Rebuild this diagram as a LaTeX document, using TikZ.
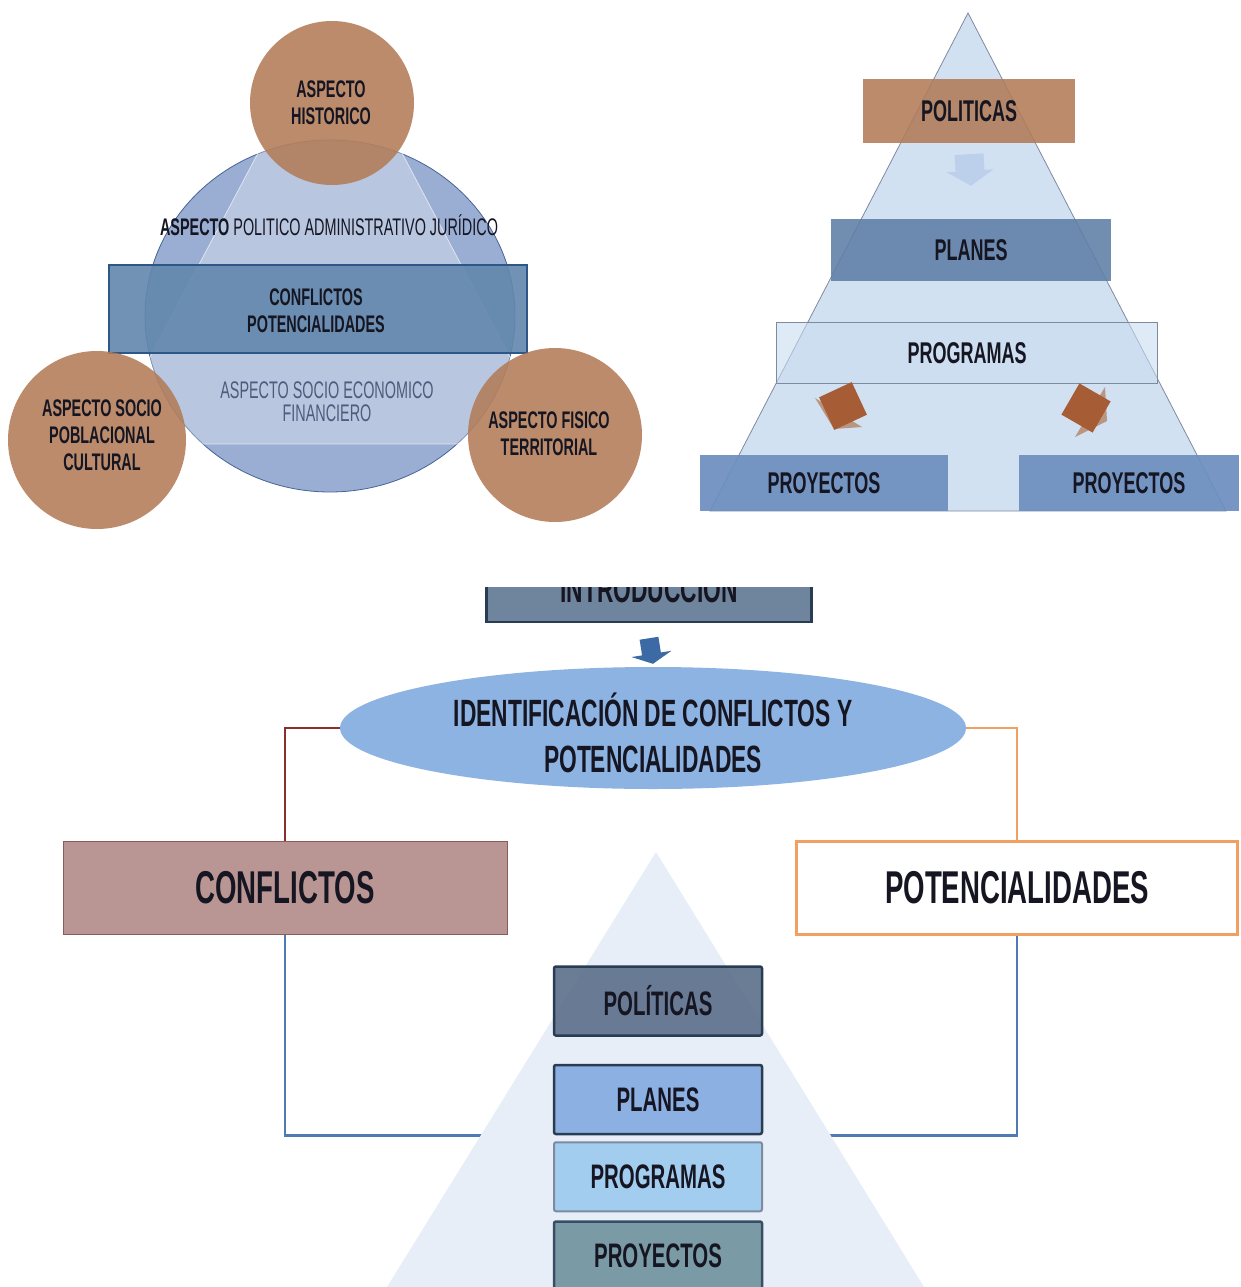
\documentclass[tikz,border=0pt]{standalone}
\usepackage{fontspec}
\setmainfont{Liberation Sans}[FakeStretch=0.6]
\usetikzlibrary{arrows.meta,positioning,shapes.geometric}

\pgfdeclarelayer{fondo}
\pgfdeclarelayer{medio}
\pgfsetlayers{fondo,medio,main}

\begin{document}
\begin{tikzpicture}[x=1pt,y=-1pt]

  % Define the colors of the three diagrams
  \definecolor{cafe}{RGB}{178,123,88}
  \definecolor{cafeflecha}{RGB}{166,92,52}
  \definecolor{cafesombra}{RGB}{184,150,130}
  \definecolor{cielo}{RGB}{154,174,211}
  \definecolor{bordecielo}{RGB}{70,100,150}
  \definecolor{acero}{RGB}{98,135,172}
  \definecolor{bordeacero}{RGB}{45,87,135}
  \definecolor{pirclaro}{RGB}{210,225,241}
  \definecolor{pirborde}{RGB}{125,138,160}
  \definecolor{planazul}{RGB}{94,127,166}
  \definecolor{progclaro}{RGB}{200,220,239}
  \definecolor{proyazul}{RGB}{108,142,191}
  \definecolor{flechatenue}{RGB}{188,208,236}
  \definecolor{introgris}{RGB}{111,133,157}
  \definecolor{introborde}{RGB}{40,60,82}
  \definecolor{flechaazul}{RGB}{60,106,164}
  \definecolor{elipse}{RGB}{141,179,226}
  \definecolor{rojo}{RGB}{139,46,46}
  \definecolor{naranja}{RGB}{240,160,96}
  \definecolor{rosa}{RGB}{185,149,148}
  \definecolor{bordrosa}{RGB}{142,90,88}
  \definecolor{lineaazul}{RGB}{79,123,181}
  \definecolor{pirtenue}{RGB}{232,238,247}
  \definecolor{politgris}{RGB}{91,110,138}
  \definecolor{planclaro}{RGB}{141,176,226}
  \definecolor{progcielo}{RGB}{163,205,239}
  \definecolor{proyteal}{RGB}{122,155,166}
  \definecolor{tinta}{RGB}{22,22,34}
  \definecolor{pizarra}{RGB}{75,92,124}

  % Styles
  \tikzset{
    texto/.style={text=tinta, align=center, inner sep=0pt,
      font=\bfseries\fontsize{24}{27}\selectfont},
    piso/.style={rectangle, inner sep=0pt, text=tinta, text opacity=1,
      minimum height=62pt, font=\bfseries\fontsize{30}{32}\selectfont},
    escalon/.style={rectangle, rounded corners=2pt, inner sep=0pt,
      line width=2.5pt, minimum width=208pt, minimum height=69pt,
      text=tinta, text opacity=1, font=\bfseries\fontsize{34}{36}\selectfont},
    grande/.style={rectangle, inner sep=0pt, minimum width=443pt,
      minimum height=93pt, text=tinta, font=\bfseries\fontsize{46}{48}\selectfont},
    rama/.style={line width=2.5pt}
  }

  \useasboundingbox (0,0) rectangle (1240,1287);
  \begin{pgfonlayer}{fondo}
    \fill[white] (0,0) rectangle (1240,1287);
  \end{pgfonlayer}

  %%%%% Top left: aspects
  \fill[cielo, draw=bordecielo, line width=0.8pt] (330,316) ellipse [x radius=185pt, y radius=176pt];
  \filldraw[white, fill opacity=0.3, draw opacity=0.6, line width=0.8pt]
    (330,17) -- (104,444) -- (556,444) -- cycle;
  \fill[acero, fill opacity=0.9, draw=bordeacero, line width=1.5pt] (109,265) rectangle (527,353);

  \fill[cafe, opacity=0.88] (332,103) circle [radius=82pt];
  \fill[cafe, opacity=0.88] (97,440) circle [radius=89pt];
  \fill[cafe, opacity=0.88] (555,435) circle [radius=87pt];

  \node[texto] (historico) at (331,103) {ASPECTO\\HISTORICO};
  \node[texto, font=\fontsize{24}{27}\selectfont] (politico) at (329,225)
    {{\bfseries ASPECTO} POLITICO ADMINISTRATIVO JURÍDICO};
  \node[texto] (confpot) at (316,311) {CONFLICTOS\\POTENCIALIDADES};
  \node[texto, text=pizarra, font=\fontsize{24}{23}\selectfont] (socioeco) at (327,402)
    {ASPECTO SOCIO ECONOMICO\\FINANCIERO};
  \node[texto] (sociopob) at (102,435) {ASPECTO SOCIO\\POBLACIONAL\\CULTURAL};
  \node[texto] (fisico) at (549,434) {ASPECTO FISICO\\TERRITORIAL};

  %%%%% Top right: pyramid
  \fill[pirclaro, draw=pirborde, line width=0.8pt] (968,13) -- (710,511) -- (1226,511) -- cycle;

  \node[piso, fill=cafe, fill opacity=0.88, minimum width=212pt, minimum height=64pt]
    (politicas) at (969,111) {POLITICAS};
  \node[piso, fill=planazul, fill opacity=0.88, minimum width=280pt]
    (planes) at (971,250) {PLANES};
  \node[piso, fill=progclaro, fill opacity=0.6, draw=pirborde, draw opacity=1, line width=0.8pt,
    minimum width=381pt, minimum height=61pt] (programas) at (967,353) {PROGRAMAS};
  \node[piso, fill=proyazul, fill opacity=0.92, minimum width=248pt, minimum height=56pt]
    (proyizq) at (824,483) {PROYECTOS};
  \node[piso, fill=proyazul, fill opacity=0.92, minimum width=220pt, minimum height=56pt]
    (proyder) at (1129,483) {PROYECTOS};

  \draw[flechatenue, line width=29pt, -{Triangle[width=46pt, length=15pt]}]
    ([yshift=-11pt]politicas.south) -- ([yshift=33pt]planes.north);

  % the two turned arrows, seen from behind
  \fill[cafesombra] (815,398) -- (834,429) -- (862,427) -- cycle;
  \fill[cafeflecha, rotate around={25:(843,406)}] (825,388) rectangle (861,424);
  \fill[cafesombra] (1105,387) -- (1107,421) -- (1075,437) -- cycle;
  \fill[cafeflecha, rotate around={-30:(1086,408)}] (1068,390) rectangle (1104,426);

  %%%%% Bottom: identification of conflicts
  \begin{scope}
    \clip (0,587) rectangle (1240,1287);
    \node[rectangle, fill=introgris, draw=introborde, line width=2.5pt, inner sep=0pt,
      minimum width=325pt, minimum height=66pt, text=tinta,
      font=\bfseries\fontsize{38}{40}\selectfont] (intro) at (649,589) {INTRODUCCION};
  \end{scope}

  \node[ellipse, fill=elipse, inner sep=0pt, minimum width=626pt, minimum height=122pt]
    (ident) at (653,728) {};
  \node[texto, font=\bfseries\fontsize{38}{46}\selectfont] (identtxt) at (653,733)
    {IDENTIFICACIÓN DE CONFLICTOS Y\\POTENCIALIDADES};

  \draw[flechaazul, line width=19pt, -{Triangle[width=40pt, length=10pt]}]
    ([yshift=-15pt]intro.south) -- ([yshift=3pt]ident.north);

  \node[grande, fill=rosa, draw=bordrosa, line width=1pt, minimum width=444pt]
    (conflictos) at (285,888) {CONFLICTOS};
  \node[grande, fill=white, draw=naranja, line width=2.5pt, minimum width=441pt]
    (potencial) at (1017,888) {POTENCIALIDADES};

  \node[escalon, fill=politgris, fill opacity=0.9, draw=introborde, draw opacity=1]
    (politicas2) at (658,1001) {POLÍTICAS};
  \node[escalon, fill=planclaro, draw=introborde, below=27pt of politicas2] (planes2) {PLANES};
  \node[escalon, fill=progcielo, draw=pirborde, line width=2pt, below=6pt of planes2]
    (programas2) {PROGRAMAS};
  \node[escalon, fill=proyteal, draw=introborde!80!proyteal, below=8pt of programas2]
    (proyectos2) {PROYECTOS};

  \begin{pgfonlayer}{medio}
    \fill[pirtenue] (656,852) -- (387,1287) -- (924,1287) -- cycle;
  \end{pgfonlayer}

  % Connectors
  \begin{pgfonlayer}{fondo}
    \draw[rama, rojo] (ident.west) -| (conflictos.north);
    \draw[rama, naranja] (ident.east) -| (potencial.north);
    \draw[rama, lineaazul] (conflictos.south) |- (planes2.south west);
    \draw[rama, lineaazul] (potencial.south) |- (planes2.south east);
  \end{pgfonlayer}

\end{tikzpicture}
\end{document}
